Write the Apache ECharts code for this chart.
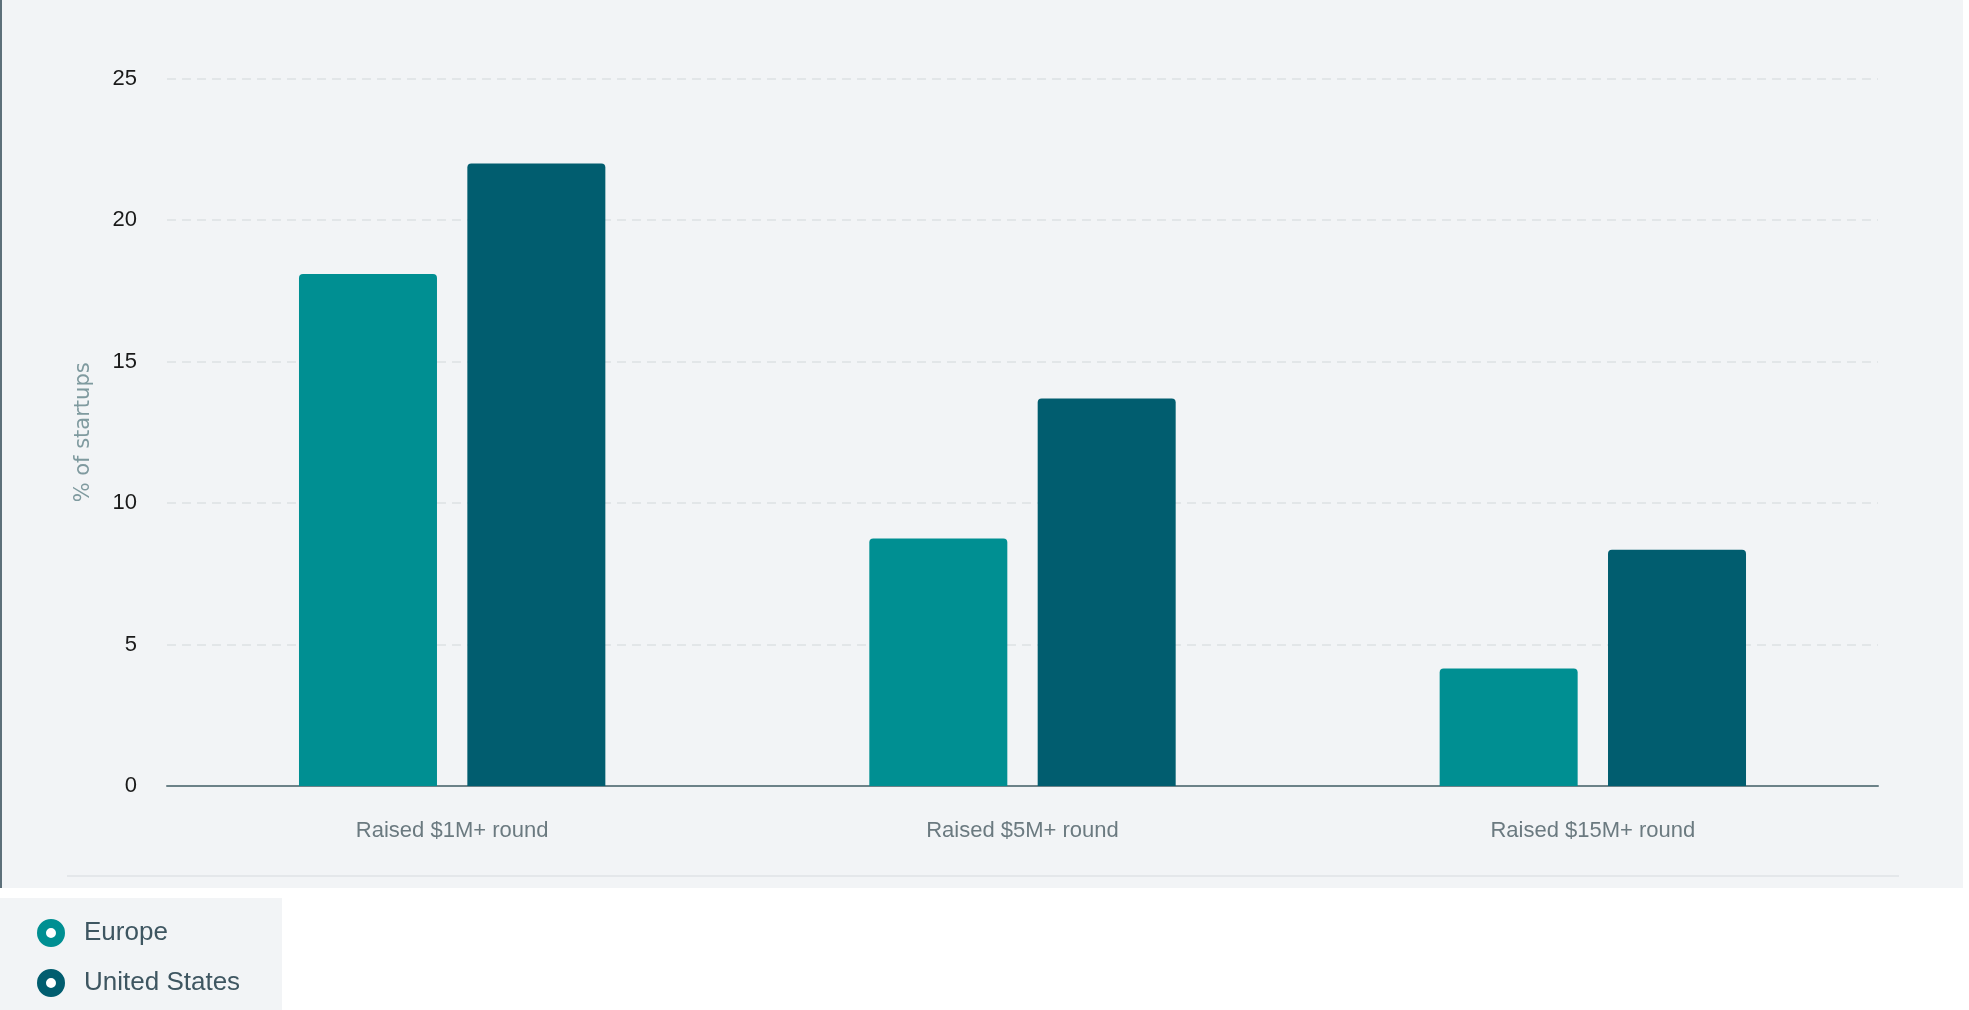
<!DOCTYPE html>
<html>
<head>
<meta charset="utf-8">
<script src="https://cdn.jsdelivr.net/npm/echarts@6/dist/echarts.min.js"></script>
<style>
  html, body { margin: 0; padding: 0; background: #ffffff; width: 1969px; height: 1010px; overflow: hidden; }
  #panel { position: absolute; left: 0; top: 0; width: 1963px; height: 888px; background: #f2f4f6; }
  #leftline { position: absolute; left: 0; top: 0; width: 2px; height: 888px; background: #5d707a; }
  #sep { position: absolute; left: 67px; top: 875px; width: 1832px; height: 2px; background: #e4e7ea; }
  #legbox { position: absolute; left: 0; top: 898px; width: 282px; height: 112px; background: #f2f4f6; }
  #chart { position: absolute; left: 0; top: 0; width: 1969px; height: 1010px; }
</style>
</head>
<body>
<div id="panel"></div>
<div id="leftline"></div>
<div id="sep"></div>
<div id="legbox"></div>
<div id="chart"></div>
<script>
const categories = ['Raised $1M+ round', 'Raised $5M+ round', 'Raised $15M+ round'];
const europe = [18.1, 8.75, 4.15];
const unitedStates = [22.0, 13.7, 8.35];
const seriesNames = ['Europe', 'United States'];
const yTicks = [0, 5, 10, 15, 20, 25];

const colors = ['#008f92', '#015d6f'];
const font = "'Liberation Sans', Arial, sans-serif";

const chart = echarts.init(document.getElementById('chart'), null, { renderer: 'canvas' });
chart.setOption({
  backgroundColor: 'transparent',
  animation: false,
  grid: { left: 167, right: 91, top: 78.7, bottom: 224, containLabel: false },
  legend: {
    orient: 'vertical',
    left: 32,
    top: 914,
    itemWidth: 56,
    itemHeight: 19,
    itemGap: 22,
    textStyle: { fontFamily: font, fontSize: 26, color: '#3e5661', lineHeight: 26 },
    data: [
      { name: seriesNames[0], icon: 'circle', itemStyle: { color: '#ffffff', borderColor: colors[0], borderWidth: 9 } },
      { name: seriesNames[1], icon: 'circle', itemStyle: { color: '#ffffff', borderColor: colors[1], borderWidth: 9 } }
    ]
  },
  xAxis: {
    type: 'category',
    data: categories,
    axisLine: { show: true, lineStyle: { color: '#6c8288', width: 2 } },
    axisTick: { show: false },
    axisLabel: { fontFamily: font, fontSize: 22, color: '#6b7a80', margin: 34 },
    splitLine: { show: false }
  },
  yAxis: {
    type: 'value',
    min: yTicks[0],
    max: yTicks[yTicks.length - 1],
    interval: yTicks[1] - yTicks[0],
    name: '% of startups',
    nameLocation: 'middle',
    nameRotate: 90,
    nameGap: 73,
    nameTextStyle: { fontFamily: "'DejaVu Sans', sans-serif", fontSize: 21, color: '#7f9a9f' },
    axisLine: { show: false },
    axisTick: { show: false },
    axisLabel: { fontFamily: font, fontSize: 22, color: '#1a1a1a', margin: 30 },
    splitLine: { show: true, lineStyle: { color: '#dde1e4', width: 1.5, type: [9, 6] } }
  },
  series: [
    {
      name: seriesNames[0],
      type: 'bar',
      data: europe,
      barWidth: 138,
      barGap: '22%',
      itemStyle: { color: colors[0], borderRadius: [4, 4, 0, 0] }
    },
    {
      name: seriesNames[1],
      type: 'bar',
      data: unitedStates,
      barWidth: 138,
      barGap: '22%',
      itemStyle: { color: colors[1], borderRadius: [4, 4, 0, 0] }
    }
  ]
});
</script>
</body>
</html>
